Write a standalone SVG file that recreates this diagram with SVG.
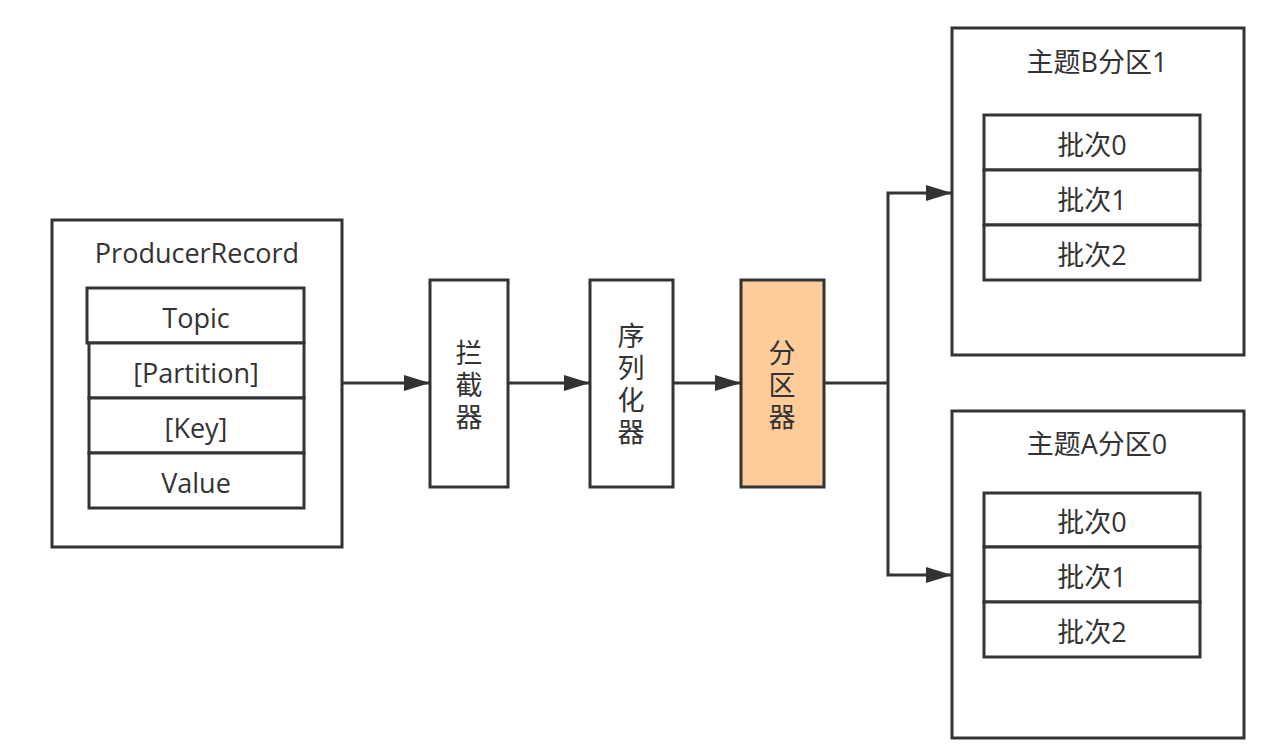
<svg xmlns="http://www.w3.org/2000/svg" width="1275" height="752" viewBox="0 0 1275 752">
<style>
.box{fill:#ffffff;stroke:#333333;stroke-width:3}
.part{fill:#ffcc99;stroke:#333333;stroke-width:3}
.t{font-family:"Open Sans","Noto Sans","Noto Sans CJK SC",sans-serif;font-size:27px;fill:#333333;text-anchor:middle;dominant-baseline:central}
.c{font-family:"Noto Sans CJK SC",sans-serif;font-size:27px;fill:#333333;text-anchor:middle;writing-mode:vertical-rl;letter-spacing:5px}
.line{fill:none;stroke:#333333;stroke-width:3}
</style>
<defs>
<marker id="arr" viewBox="0 0 26 16" refX="25" refY="8" markerWidth="26" markerHeight="16" markerUnits="userSpaceOnUse" orient="auto">
<path d="M0,0 L26,8 L0,16 Z" fill="#333333"/>
</marker>
</defs>
<rect width="1275" height="752" fill="#ffffff"/>
<g id="connectors">
<path class="line" d="M342,383 H429" marker-end="url(#arr)"/>
<path class="line" d="M508,383 H589" marker-end="url(#arr)"/>
<path class="line" d="M673,383 H740" marker-end="url(#arr)"/>
<path class="line" d="M824,383 H888"/>
<path class="line" d="M888,383 V193 H951" marker-end="url(#arr)"/>
<path class="line" d="M888,383 V575 H951" marker-end="url(#arr)"/>
</g>
<g id="producer-record">
<rect class="box" x="52" y="220" width="290" height="327"/>
<text class="t" x="197" y="252">ProducerRecord</text>
<rect class="box" x="87" y="288" width="217" height="55"/>
<text class="t" x="196" y="317">Topic</text>
<rect class="box" x="89" y="343" width="215" height="55"/>
<text class="t" x="196" y="372">[Partition]</text>
<rect class="box" x="89" y="398" width="215" height="55"/>
<text class="t" x="196" y="427">[Key]</text>
<rect class="box" x="89" y="453" width="215" height="55"/>
<text class="t" x="196" y="482">Value</text>
</g>
<g id="interceptor">
<rect class="box" x="430" y="280" width="78" height="207"/>
<text class="c" x="469" y="387">拦截器</text>
</g>
<g id="serializer">
<rect class="box" x="590" y="280" width="83" height="207"/>
<text class="c" x="631" y="386">序列化器</text>
</g>
<g id="partitioner">
<rect class="part" x="741" y="280" width="83" height="207"/>
<text class="c" x="782" y="387">分区器</text>
</g>
<g id="topic-b-partition-1">
<rect class="box" x="952" y="28" width="292" height="327"/>
<text class="t" x="1097" y="61">主题B分区1</text>
<rect class="box" x="984" y="115" width="216" height="55"/>
<text class="t" x="1092" y="144">批次0</text>
<rect class="box" x="984" y="170" width="216" height="55"/>
<text class="t" x="1092" y="199">批次1</text>
<rect class="box" x="984" y="225" width="216" height="55"/>
<text class="t" x="1092" y="254">批次2</text>
</g>
<g id="topic-a-partition-0">
<rect class="box" x="952" y="411" width="292" height="327"/>
<text class="t" x="1097" y="443">主题A分区0</text>
<rect class="box" x="984" y="493" width="216" height="54"/>
<text class="t" x="1092" y="521">批次0</text>
<rect class="box" x="984" y="547" width="216" height="55"/>
<text class="t" x="1092" y="576">批次1</text>
<rect class="box" x="984" y="602" width="216" height="55"/>
<text class="t" x="1092" y="631">批次2</text>
</g>
</svg>
